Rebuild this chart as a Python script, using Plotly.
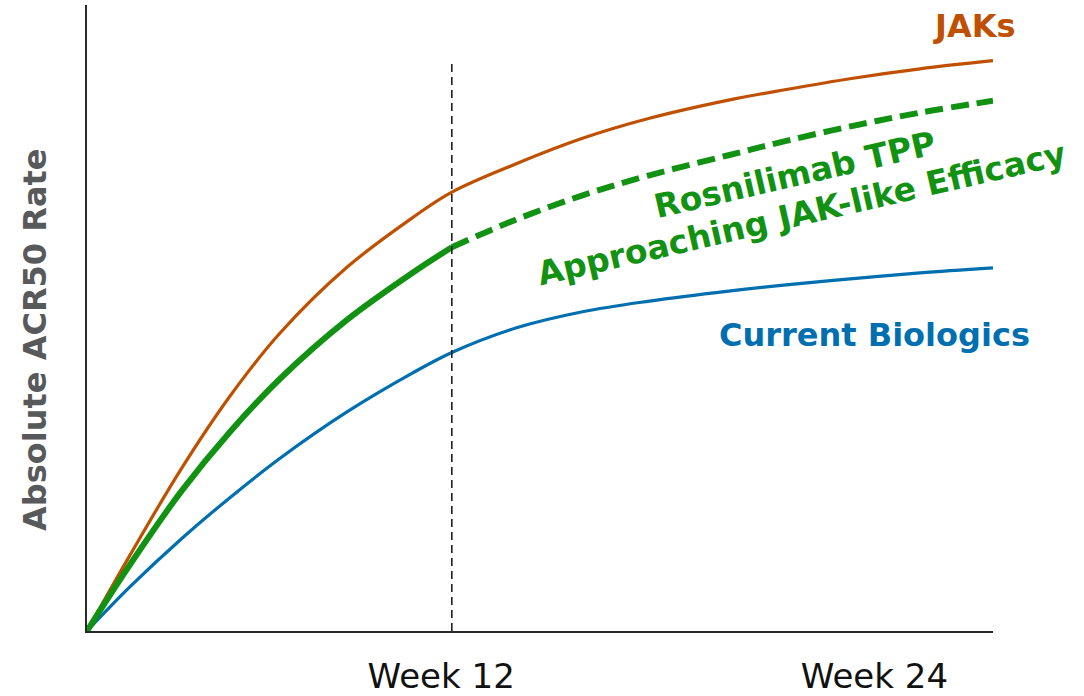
import plotly.graph_objects as go

# Study timeline (weeks) and absolute ACR50 response (%, schematic scale)
weeks = [0, 1.4, 3.1, 4.7, 6.35, 8.55, 10.7, 12.0, 14.1, 16.3, 18.5, 21.1, 23.0, 25.2, 27.4, 29.8]
jaks = [0, 12.0, 25.9, 37.5, 47.6, 58.1, 66.0, 70.1, 74.6, 78.7, 81.9, 84.8, 86.5, 88.3, 89.8, 91.1]
biologics = [0, 7.0, 14.7, 21.3, 27.6, 35.0, 41.2, 44.5, 48.4, 51.0, 52.7, 54.3, 55.3, 56.3, 57.2, 58.0]

# Rosnilimab target product profile: observed to week 12, projected beyond
tpp_weeks = [0, 1.4, 3.1, 4.7, 6.35, 8.55, 10.7, 12.0]
tpp = [0, 10.5, 22.3, 31.8, 40.3, 49.7, 57.2, 61.3]
tpp_proj_weeks = [12.0, 14.1, 16.3, 18.5, 21.1, 23.0, 25.2, 27.4, 29.8]
tpp_proj = [61.3, 65.7, 69.6, 72.8, 76.0, 78.3, 80.7, 82.8, 84.7]

tick_pos = [11.65, 25.9]
tick_text = ["Week 12", "Week 24"]
milestone_week = 12.0
milestone_top = 90.7

ORANGE = "#BF5000"
BLUE = "#006FB0"
GREEN = "#129212"
FONT = "DejaVu Sans"

fig = go.Figure()
fig.add_trace(go.Scatter(x=weeks, y=biologics, mode="lines",
                         line=dict(color=BLUE, width=3.2, shape="spline")))
fig.add_trace(go.Scatter(x=weeks, y=jaks, mode="lines",
                         line=dict(color=ORANGE, width=3.2, shape="spline")))
fig.add_trace(go.Scatter(x=tpp_proj_weeks, y=tpp_proj, mode="lines",
                         line=dict(color=GREEN, width=6, dash="18px,8px", shape="spline")))
fig.add_trace(go.Scatter(x=tpp_weeks, y=tpp, mode="lines",
                         line=dict(color=GREEN, width=6, shape="spline")))

fig.add_shape(type="line", x0=milestone_week, x1=milestone_week, y0=0, y1=milestone_top,
              xref="x", yref="y", line=dict(color="#111111", width=1.5, dash="8px,5px"))

fig.add_annotation(x=29.2, y=96.6, text="<b>JAKs</b>", showarrow=False,
                   font=dict(family=FONT, size=32, color=ORANGE), xanchor="center", yanchor="middle")
fig.add_annotation(x=25.9, y=47.3, text="<b>Current Biologics</b>", showarrow=False,
                   font=dict(family=FONT, size=32, color=BLUE), xanchor="center", yanchor="middle")

# TPP label, two tilted lines
fig.add_annotation(x=23.3, y=72.9, text="<b>Rosnilimab TPP</b>",
                   showarrow=False, textangle=-13,
                   font=dict(family=FONT, size=33, color=GREEN), xanchor="center", yanchor="middle")
fig.add_annotation(x=23.5, y=66.7, text="<b>Approaching JAK-like Efficacy</b>",
                   showarrow=False, textangle=-13,
                   font=dict(family=FONT, size=33, color=GREEN), xanchor="center", yanchor="middle")

# y-axis title
fig.add_annotation(xref="paper", yref="paper", x=-0.0574, y=0.465,
                   text="<b>Absolute ACR50 Rate</b>", showarrow=False, textangle=-90,
                   font=dict(family=FONT, size=32, color="#58595B"),
                   xanchor="center", yanchor="middle")

fig.update_layout(
    width=1084, height=696,
    margin=dict(l=87, r=91, t=5, b=65),
    plot_bgcolor="white", paper_bgcolor="white",
    showlegend=False,
    xaxis=dict(range=[0, 29.8], showgrid=False, zeroline=False, automargin=False,
               showline=True, linecolor="#2a2a2a", linewidth=2,
               tickvals=tick_pos, ticktext=tick_text, ticks="",
               ticklabelstandoff=14,
               tickfont=dict(family=FONT, size=34, color="#111111")),
    yaxis=dict(range=[0, 100], showgrid=False, zeroline=False, automargin=False,
               showline=True, linecolor="#2a2a2a", linewidth=2,
               showticklabels=False, ticks=""),
)

fig.write_html("out.html")
